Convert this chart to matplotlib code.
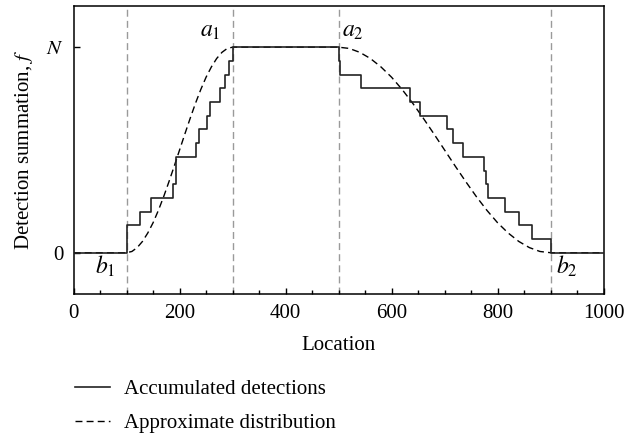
import matplotlib
matplotlib.use('Agg')
import matplotlib.pyplot as plt
import numpy as np

plt.rcParams['font.family'] = 'Liberation Serif'
plt.rcParams['mathtext.fontset'] = 'stix'

N = 15
# accumulated detections (step edges, counts after each edge)
step_x = [0, 100, 126, 147, 187, 194, 231, 237, 251, 257, 276, 286, 293, 300,
          500, 503, 543, 635, 653, 704, 716, 735, 775, 778, 782, 815, 841, 865, 900, 1000]
step_n = [0, 2, 3, 4, 5, 7, 8, 9, 10, 11, 12, 13, 14, 15,
          14, 13, 12, 11, 10, 9, 8, 7, 6, 5, 4, 3, 2, 1, 0, 0]

# approximate distribution
rise_x = [0, 100, 110, 120, 130, 140, 150, 160, 170, 180, 190, 200,
          210, 220, 230, 240, 250, 260, 270, 280, 290, 300]
rise_y = [0, 0, 0.006, 0.025, 0.055, 0.096, 0.146, 0.206, 0.273, 0.346, 0.422, 0.5,
          0.578, 0.654, 0.727, 0.794, 0.854, 0.904, 0.945, 0.975, 0.994, 1.0]
fall_x = [500, 520, 540, 560, 580, 600, 620, 640, 660, 680, 700,
          720, 740, 760, 780, 800, 820, 840, 860, 880, 900, 1000]
fall_y = [1.0, 0.994, 0.975, 0.945, 0.904, 0.854, 0.794, 0.727, 0.654, 0.578, 0.5,
          0.422, 0.346, 0.273, 0.206, 0.146, 0.096, 0.055, 0.025, 0.006, 0, 0]

bounds = [100, 300, 500, 900]

fig = plt.figure(figsize=(6.4, 4.34), dpi=100)
ax = fig.add_axes([0.115, 0.323, 0.828, 0.663])

for b in bounds:
    ax.axvline(b, color='#9a9a9a', lw=1.0, ls=(0, (5, 3)), zorder=1)

approx_x = rise_x + fall_x
approx_y = rise_y + fall_y
l2, = ax.plot(approx_x, approx_y, color='black', lw=1.0, ls=(0, (5, 3)), zorder=2)
l1, = ax.step(step_x, np.array(step_n) / N, where='post', color='#222222', lw=1.2, zorder=3)

ax.text(257, 1.075, '$a_1$', fontsize=17, ha='center', va='center')
ax.text(527, 1.075, '$a_2$', fontsize=17, ha='center', va='center')
ax.text(59, -0.065, '$b_1$', fontsize=17, ha='center', va='center')
ax.text(931, -0.065, '$b_2$', fontsize=17, ha='center', va='center')

ax.set_xlim(0, 1000)
ax.set_ylim(-0.2, 1.2)
ax.set_xticks([0, 200, 400, 600, 800, 1000])
ax.set_xticks(np.arange(0, 1001, 50), minor=True)
ax.set_yticks([0, 1])
ax.set_yticklabels(['0', '$N$'])
ax.tick_params(direction='in', labelsize=15, length=4, width=1, pad=7)
ax.tick_params(which='minor', direction='in', length=3, width=1)
for s in ax.spines.values():
    s.set_linewidth(1.1)

ax.set_xlabel('Location', fontsize=15, labelpad=10)
ax.set_ylabel('Detection summation, $f$', fontsize=15, labelpad=8)

fig.legend([l1, l2], ['Accumulated detections', 'Approximate distribution'],
           loc='upper left', bbox_to_anchor=(0.117, 0.126), frameon=False,
           fontsize=15, handlelength=1.7, handletextpad=0.65, labelspacing=0.7,
           borderpad=0, borderaxespad=0)

fig.savefig('out.png', dpi=100)
